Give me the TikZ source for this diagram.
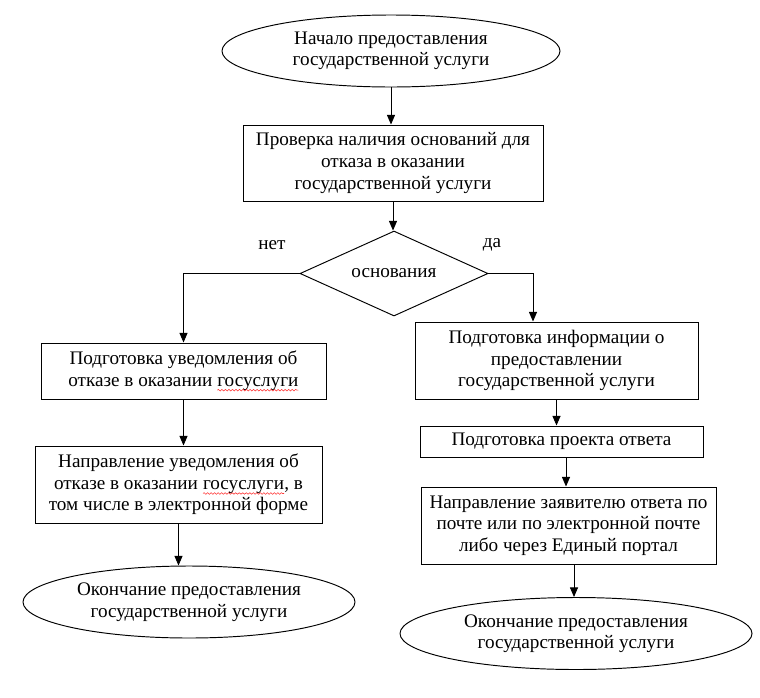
\documentclass[tikz,border=0pt]{standalone}
\usepackage{fontspec}
\setmainfont{Liberation Serif}
\usetikzlibrary{shapes.geometric,arrows.meta,decorations.pathmorphing}

% red spell-check wave under a word
\newcommand\redwave[1]{\tikz[baseline=(w.base), x=1cm, y=1cm]{\node [shape=rectangle, inner sep=0pt, outer sep=0pt, draw=none, minimum width=0pt, minimum height=0pt] (w) {#1}; \draw [red!80, line width=0.35pt, decorate, decoration={snake, amplitude=0.5pt, segment length=2.2pt}] ([yshift=-2.6pt]w.base west) -- ([yshift=-2.6pt]w.base east);}}

\begin{document}
\begin{tikzpicture}
	[
		x=0.022cm, y=-0.022cm,
		every node/.style = {font=\fontsize{12}{13.5}\selectfont, align=center, line width=0.6pt},
		term/.style = {shape=ellipse, draw, inner sep=0pt, minimum height=72*0.022cm},
		stepbox/.style = {shape=rectangle, draw, inner sep=0pt},
		decision/.style = {shape=diamond, draw, inner sep=0pt, aspect=2.2, minimum width=188*0.022cm, minimum height=85*0.022cm},
		arr/.style = {line width=0.6pt, -{Triangle[length=6pt,width=5pt]}}
	]
	
	\useasboundingbox (0,0) rectangle (760,697);
	
	\def\px{0.022cm}
	
	\node [term, minimum width=338*\px] (start) at (391,51) {Начало предоставления\\государственной услуги};
	
	\node [stepbox, minimum width=300*\px, minimum height=76*\px] (check) at (393,163) {Проверка наличия оснований для\\отказа в оказании\\государственной услуги};
	
	\node [decision] (dia) at (394,273.5) {основания};
	\node (no) at (272,245) {нет};
	\node (yes) at (492,245) {да};
	\coordinate (yesline) at (533,0);
	
	% left branch
	\node [stepbox, minimum width=285*\px, minimum height=56*\px] (lb1) at (183.5,371) {Подготовка уведомления об\\отказе в оказании \redwave{госуслуги}};
	\node [stepbox, minimum width=287*\px, minimum height=77*\px] (lb2) at (178.5,484.5) {Направление уведомления об\\отказе в оказании \redwave{госуслуги}, в\\том числе в электронной форме};
	\node [term, minimum width=332*\px] (lend) at (189,602) {Окончание предоставления\\государственной услуги};
	
	% right branch
	\node [stepbox, minimum width=283*\px, minimum height=77*\px] (rb1) at (556.5,360.5) {Подготовка информации о\\предоставлении\\государственной услуги};
	\node [stepbox, minimum width=283*\px, minimum height=31*\px] (rb2) at (561.5,441.5) {Подготовка проекта ответа};
	\node [stepbox, minimum width=295*\px, minimum height=77*\px] (rb3) at (568.5,525.5) {Направление заявителю ответа по\\почте или по электронной почте\\либо через Единый портал};
	\node [term, minimum width=352*\px] (rend) at (576,633.5) {Окончание предоставления\\государственной услуги};
	
	\draw [arr] (start.south) -- (start.south |- check.north);
	\draw [arr] (check.south) -- (check.south |- dia.north);
	\draw [arr] (dia.west) -| (lb1.north);
	\draw [arr] (dia.east) -| (yesline |- rb1.north);
	
	\draw [arr] (lb1.south) -- (lb1.south |- lb2.north);
	\draw [arr] (lb2.south) -- (lb2.south |- lend.north);
	
	\draw [arr] (rb1.south) -- (rb1.south |- rb2.north);
	\draw [arr] ([xshift=4.5*\px]rb2.south) -- ([xshift=4.5*\px]rb2.south |- rb3.north);
	\draw [arr] ([xshift=5.5*\px]rb3.south) -- ([xshift=5.5*\px]rb3.south |- rend.north);
	
\end{tikzpicture}
\end{document}
